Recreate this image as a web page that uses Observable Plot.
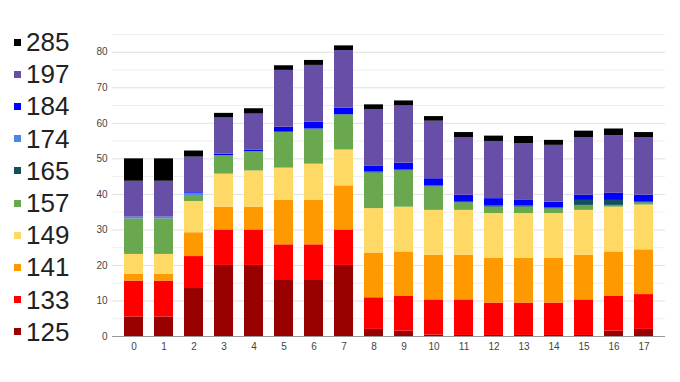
<!DOCTYPE html>
<html>
<head>
<meta charset="utf-8">
<script src="https://cdn.jsdelivr.net/npm/d3@7"></script>
<script src="https://cdn.jsdelivr.net/npm/@observablehq/plot@0.6"></script>
<style>
  html, body { margin: 0; padding: 0; background: #fff; }
  #wrap { position: relative; width: 680px; height: 382px; font-family: "Liberation Sans", Arial, sans-serif; }
  #legend { position: absolute; left: 14px; top: 26px; }
  .item { height: 32.2px; display: flex; align-items: center; }
  .sw { width: 7px; height: 7px; margin-right: 5px; }
  .lab { font-size: 26px; color: #222; line-height: 1; }
  #chart { position: absolute; left: 0; top: 0; }
</style>
</head>
<body>
<div id="wrap"><div id="chart"></div><div id="legend"></div></div>
<script>
const categories = ["0","1","2","3","4","5","6","7","8","9","10","11","12","13","14","15","16","17"];
const seriesNames = ["125","133","141","149","157","165","174","184","197","285"];
const seriesColors = ["#990000","#ff0000","#ff9900","#ffd966","#6aa84f","#134f5c","#4a86e8","#0000ff","#674ea7","#000000"];
const s125 = [5.5,5.5,13.5,20,20,16,16,20,2,1.5,0.4,0.3,0.3,0.3,0.3,0.3,1.5,2];
const s133 = [10.1,10.1,9,10,10,9.8,9.8,10,8.9,9.9,9.9,10,9.1,9.1,9.1,10,9.9,9.8];
const s141 = [1.9,1.9,6.7,6.4,6.4,12.5,12.5,12.4,12.6,12.4,12.6,12.6,12.6,12.6,12.6,12.6,12.4,12.6];
const s149 = [5.6,5.6,8.8,9.3,10.2,9.1,10.2,10.1,12.5,12.6,12.6,12.6,12.6,12.6,12.6,12.6,12.6,12.6];
const s157 = [10,10,1.7,5.2,5.4,10.1,9.9,9.9,10,10.2,6.6,2.1,1.8,1.8,1.3,1.4,0.5,0.6];
const s165 = [0,0,0,0,0,0,0,0,0.3,0.3,0.3,0.2,0.4,0.4,0.3,1.4,1.4,0.2];
const s174 = [0.5,0.5,0.6,0,0,0,0,0,0,0,0,0,0,0,0,0,0,0];
const s184 = [0,0,0.2,0.4,0.5,1.4,1.9,1.9,1.7,1.9,2,2,2,1.5,1.6,1.5,2,2];
const s197 = [10.1,10.1,10,10.2,10.1,16,16,16.2,15.9,16.1,16.2,16.1,16.1,16,16,16.1,16.2,16.1];
const s285 = [6.3,6.3,1.7,1.3,1.5,1.3,1.4,1.3,1.3,1.4,1.3,1.5,1.5,2,1.4,1.9,1.9,1.5];
const yMajorTicks = [0,10,20,30,40,50,60,70,80];
const yMinorTicks = [5,15,25,35,45,55,65,75,85];

const seriesValues = [s125,s133,s141,s149,s157,s165,s174,s184,s197,s285];
const rows = [];
seriesNames.forEach((name, si) => {
  categories.forEach((c, ci) => rows.push({cat: c, series: name, value: seriesValues[si][ci]}));
});

const chart = Plot.plot({
  width: 680,
  height: 382,
  marginLeft: 112,
  marginRight: 15,
  marginTop: 34,
  marginBottom: 46,
  style: {fontFamily: '"Liberation Sans", Arial, sans-serif', fontSize: "10px", color: "#444"},
  x: {domain: categories, paddingInner: 0.36, paddingOuter: 0.18, insetLeft: 5, insetRight: 5, label: null},
  y: {domain: [0, 85], label: null},
  color: {domain: seriesNames, range: seriesColors},
  marks: [
    Plot.ruleY(yMinorTicks, {stroke: "#eeeeee", strokeWidth: 1}),
    Plot.ruleY(yMajorTicks.filter(d => d > 0), {stroke: "#e0e0e0", strokeWidth: 1}),
    Plot.barY(rows, Plot.stackY({x: "cat", y: "value", fill: "series"})),
    Plot.ruleY([0], {stroke: "#999999", strokeWidth: 1}),
    Plot.axisY(yMajorTicks, {tickSize: 0, tickPadding: 5, label: null, fill: "#444"}),
    Plot.axisX({tickSize: 0, tickPadding: 6, label: null, fill: "#444"})
  ]
});
document.getElementById("chart").appendChild(chart);

const legend = document.getElementById("legend");
for (let i = seriesNames.length - 1; i >= 0; i--) {
  const item = document.createElement("div");
  item.className = "item";
  const sw = document.createElement("div");
  sw.className = "sw";
  sw.style.background = seriesColors[i];
  const lab = document.createElement("span");
  lab.className = "lab";
  lab.textContent = seriesNames[i];
  item.appendChild(sw); item.appendChild(lab);
  legend.appendChild(item);
}
</script>
</body>
</html>
